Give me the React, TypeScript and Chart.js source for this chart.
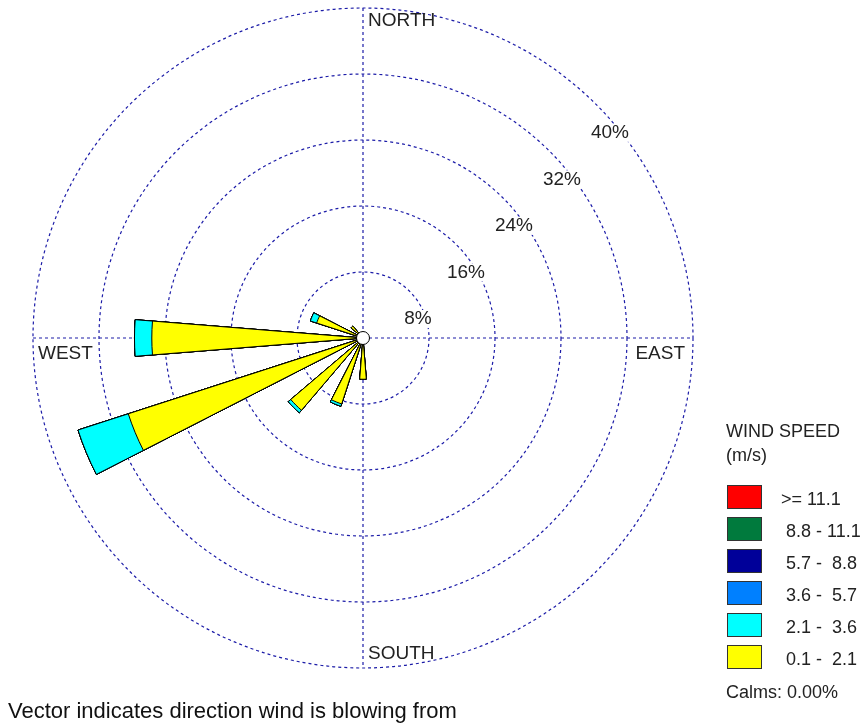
import React, { useEffect, useRef } from "react";
import { Chart, registerables } from "chart.js";

Chart.register(...registerables);

// ---- data ----
const directions = ["N", "NNE", "NE", "ENE", "E", "ESE", "SE", "SSE", "S", "SSW", "SW", "WSW", "W", "WNW", "NW", "NNW"];
// percent frequency per direction for each speed class (m/s)
const speed0p1to2p1 = [0, 0, 0, 0, 0, 0, 0, 0, 5.0, 8.4, 11.5, 29.9, 25.6, 5.9, 1.9, 0];
const speed2p1to3p6 = [0, 0, 0, 0, 0, 0, 0, 0, 0, 0.3, 0.4, 6.4, 2.1, 0.8, 0, 0];
const speed3p6to5p7 = [0, 0, 0, 0, 0, 0, 0, 0, 0, 0, 0, 0, 0, 0, 0, 0];
const speed5p7to8p8 = [0, 0, 0, 0, 0, 0, 0, 0, 0, 0, 0, 0, 0, 0, 0, 0];
const speed8p8to11p1 = [0, 0, 0, 0, 0, 0, 0, 0, 0, 0, 0, 0, 0, 0, 0, 0];
const speedAbove11p1 = [0, 0, 0, 0, 0, 0, 0, 0, 0, 0, 0, 0, 0, 0, 0, 0];

// low -> high
const speedSeries = [speed0p1to2p1, speed2p1to3p6, speed3p6to5p7, speed5p7to8p8, speed8p8to11p1, speedAbove11p1];
const speedColors = ["#ffff00", "#00ffff", "#0080ff", "#000099", "#007a3d", "#ff0000"];
// legend, top -> bottom
const legendLabels = [">= 11.1", " 8.8 - 11.1", " 5.7 -  8.8", " 3.6 -  5.7", " 2.1 -  3.6", " 0.1 -  2.1"];
const legendColors = ["#ff0000", "#007a3d", "#000099", "#0080ff", "#00ffff", "#ffff00"];
const ringTicks = [8, 16, 24, 32, 40];
const ringLabels = ["8%", "16%", "24%", "32%", "40%"];
const cardinalLabels = ["NORTH", "EAST", "SOUTH", "WEST"];
const calmsText = "Calms: 0.00%";
const legendTitle = ["WIND SPEED", "(m/s)"];
const footnote = "Vector indicates direction wind is blowing from";

const PETAL_DEG = 9.2;
const SECTOR_DEG = 360 / directions.length;
const GRID_COLOR = "#1c1ca8";
const TEXT_COLOR = "#222";
const FONT = "'Liberation Sans', Arial, sans-serif";

// interleave petal + gap slices
const sliceLabels: string[] = [];
directions.forEach((d) => { sliceLabels.push(d); sliceLabels.push(""); });

function cumulative(upTo: number): number[] {
  const out: number[] = [];
  directions.forEach((_, i) => {
    let s = 0;
    for (let k = 0; k <= upTo; k++) s += speedSeries[k][i];
    out.push(+s.toFixed(3));
    out.push(0);
  });
  return out;
}

const datasets = speedSeries.map((_, k) => ({
  label: legendLabels[legendLabels.length - 1 - k],
  data: cumulative(k),
  backgroundColor: speedColors[k],
  borderColor: "#000",
  borderWidth: (ctx: any) => (ctx.index % 2 === 0 && ctx.raw > 0 ? 1 : 0),
  angle: (ctx: any) => (ctx.index % 2 === 0 ? PETAL_DEG : SECTOR_DEG - PETAL_DEG),
}));

const decorPlugin = {
  id: "windRoseDecor",
  beforeDatasetsDraw(chart: any) {
    const s = chart.scales.r;
    const ctx = chart.ctx;
    const cx = s.xCenter, cy = s.yCenter, R = s.drawingArea;
    ctx.save();
    ctx.strokeStyle = GRID_COLOR;
    ctx.lineWidth = 1.2;
    ctx.setLineDash([3, 3]);
    ctx.beginPath();
    ctx.moveTo(cx - R, cy);
    ctx.lineTo(cx + R, cy);
    ctx.moveTo(cx, cy - R);
    ctx.lineTo(cx, cy + R);
    ctx.stroke();
    ctx.setLineDash([]);

    // ring labels
    ctx.font = `19px ${FONT}`;
    ctx.textAlign = "center";
    ctx.textBaseline = "middle";
    ringTicks.forEach((t, i) => {
      const r = s.getDistanceFromCenterForValue(t);
      const x = cx + 0.727 * r + 7;
      const y = cy - 0.705 * r + 27.5;
      const w = ctx.measureText(ringLabels[i]).width;
      ctx.fillStyle = "#fff";
      ctx.fillRect(x - w / 2 - 1, y - 9, w + 2, 18);
      ctx.fillStyle = TEXT_COLOR;
      ctx.fillText(ringLabels[i], x, y);
    });

    // cardinal labels
    ctx.textBaseline = "middle";
    ctx.textAlign = "left";
    ctx.fillText(cardinalLabels[0], cx + 5, cy - R + 13);
    ctx.fillText(cardinalLabels[2], cx + 5, cy + R - 14);
    ctx.fillText(cardinalLabels[3], cx - R + 5, cy + 16);
    ctx.textAlign = "right";
    ctx.fillText(cardinalLabels[1], cx + R - 8, cy + 16);
    ctx.restore();
  },
  afterDatasetsDraw(chart: any) {
    const s = chart.scales.r;
    const ctx = chart.ctx;
    ctx.save();
    ctx.beginPath();
    ctx.arc(s.xCenter, s.yCenter, 6.5, 0, Math.PI * 2);
    ctx.fillStyle = "#fff";
    ctx.fill();
    ctx.strokeStyle = "#000";
    ctx.lineWidth = 1;
    ctx.stroke();
    ctx.restore();
  },
  afterDraw(chart: any) {
    const ctx = chart.ctx;
    ctx.save();
    ctx.fillStyle = TEXT_COLOR;
    ctx.textAlign = "left";
    ctx.textBaseline = "alphabetic";
    ctx.font = `18px ${FONT}`;
    ctx.fillText(legendTitle[0], 726, 437);
    ctx.fillText(legendTitle[1], 726, 461);
    legendLabels.forEach((lab, i) => {
      const top = 485 + i * 32;
      ctx.fillStyle = legendColors[i];
      ctx.fillRect(727, top, 35, 24);
      ctx.strokeStyle = "#333";
      ctx.lineWidth = 1;
      ctx.strokeRect(727.5, top + 0.5, 34, 23);
      ctx.fillStyle = TEXT_COLOR;
      ctx.fillText(lab, 781, top + 20);
    });
    ctx.fillText(calmsText, 726, 698);
    ctx.font = `22px ${FONT}`;
    ctx.fillStyle = "#111";
    ctx.fillText(footnote, 8, 718);
    ctx.restore();
  },
};

export default function App() {
  const ref = useRef<HTMLCanvasElement>(null);
  useEffect(() => {
    if (!ref.current) return;
    const chart = new Chart(ref.current, {
      type: "polarArea",
      data: { labels: sliceLabels, datasets: datasets as any },
      options: {
        responsive: false,
        maintainAspectRatio: false,
        animation: false,
        events: [],
        layout: { padding: { left: 33, right: 172, top: 8, bottom: 56 } },
        plugins: { legend: { display: false }, tooltip: { enabled: false } },
        scales: {
          r: {
            min: 0,
            max: 40,
            startAngle: -PETAL_DEG / 2,
            ticks: { display: false, stepSize: 8 },
            grid: { circular: true, color: GRID_COLOR, lineWidth: 1.2 },
            border: { dash: [3, 3] },
            angleLines: { display: false },
            pointLabels: { display: false },
          } as any,
        },
      },
      plugins: [decorPlugin],
    });
    return () => chart.destroy();
  }, []);
  return (
    <div style={{ position: "fixed", left: 0, top: 0, width: 865, height: 724, background: "#fff" }}>
      <canvas ref={ref} width={865} height={724} style={{ display: "block" }} />
    </div>
  );
}
